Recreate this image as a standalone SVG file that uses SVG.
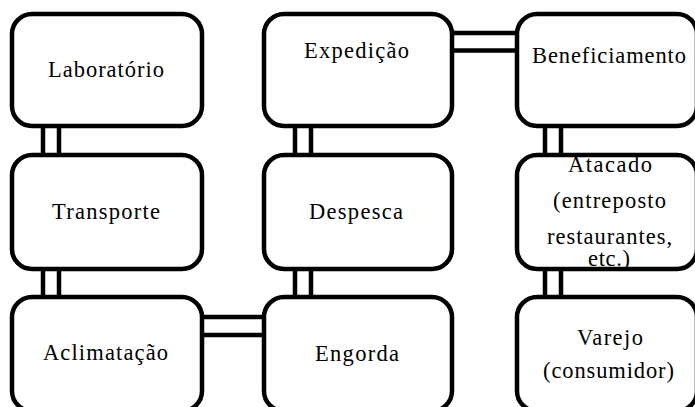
<svg xmlns="http://www.w3.org/2000/svg" width="695" height="407" viewBox="0 0 695 407">
<style>
.box{fill:#fff;stroke:#000;stroke-width:4.5}
.con line{stroke:#000;stroke-width:4.5}
text{font-family:"Liberation Serif","Times New Roman",serif;font-size:22.5px;fill:#000}
</style>
<rect width="695" height="407" fill="#fff"/>
<g id="connectors" class="con">
<line x1="43" y1="124" x2="43" y2="157"/>
<line x1="59" y1="124" x2="59" y2="157"/>
<line x1="43" y1="267" x2="43" y2="299"/>
<line x1="59" y1="267" x2="59" y2="299"/>
<line x1="295" y1="124" x2="295" y2="157"/>
<line x1="311" y1="124" x2="311" y2="157"/>
<line x1="295" y1="267" x2="295" y2="299"/>
<line x1="311" y1="267" x2="311" y2="299"/>
<line x1="545" y1="124" x2="545" y2="157"/>
<line x1="561" y1="124" x2="561" y2="157"/>
<line x1="545" y1="267" x2="545" y2="299"/>
<line x1="561" y1="267" x2="561" y2="299"/>
<line x1="450" y1="33" x2="519" y2="33"/>
<line x1="450" y1="50.5" x2="519" y2="50.5"/>
<line x1="200" y1="317" x2="266" y2="317"/>
<line x1="200" y1="335" x2="266" y2="335"/>
</g>
<g id="laboratorio"><rect class="box" x="12" y="14" width="190" height="112" rx="20"/><text x="48" y="77" textLength="116" lengthAdjust="spacing">Laboratório</text></g>
<g id="transporte"><rect class="box" x="12" y="155" width="190" height="114" rx="20"/><text x="52" y="219" textLength="108" lengthAdjust="spacing">Transporte</text></g>
<g id="aclimatacao"><rect class="box" x="12" y="297" width="190" height="114" rx="20"/><text x="43" y="360" textLength="125" lengthAdjust="spacing">Aclimatação</text></g>
<g id="expedicao"><rect class="box" x="264" y="14" width="188" height="112" rx="20"/><text x="304" y="58" textLength="105" lengthAdjust="spacing">Expedição</text></g>
<g id="despesca"><rect class="box" x="264" y="155" width="188" height="114" rx="20"/><text x="309" y="219" textLength="94" lengthAdjust="spacing">Despesca</text></g>
<g id="engorda"><rect class="box" x="264" y="297" width="188" height="114" rx="20"/><text x="315" y="361" textLength="84" lengthAdjust="spacing">Engorda</text></g>
<g id="beneficiamento"><rect class="box" x="517" y="14" width="180" height="112" rx="20"/><text x="532" y="63" textLength="154" lengthAdjust="spacing">Beneficiamento</text></g>
<g id="atacado"><rect class="box" x="517" y="155" width="180" height="114" rx="20"/>
<text x="568" y="172" textLength="84" lengthAdjust="spacing">Atacado</text>
<text x="553" y="208" textLength="113" lengthAdjust="spacing">(entreposto</text>
<text x="547" y="244" textLength="125" lengthAdjust="spacing">restaurantes,</text>
<text x="588" y="266" textLength="42" lengthAdjust="spacing">etc.)</text></g>
<g id="varejo"><rect class="box" x="517" y="297" width="180" height="114" rx="20"/>
<text x="577" y="345" textLength="66" lengthAdjust="spacing">Varejo</text>
<text x="543" y="378" textLength="131" lengthAdjust="spacing">(consumidor)</text></g>
</svg>
